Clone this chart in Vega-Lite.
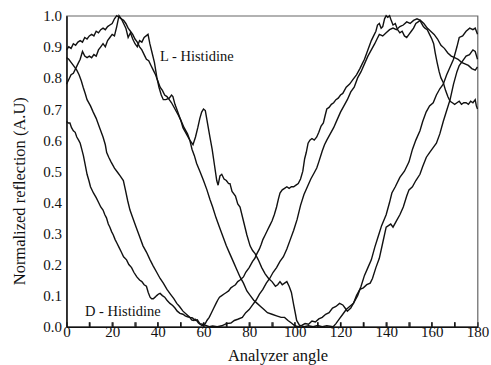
{
"$schema":"https://vega.github.io/schema/vega-lite/v6.json",
"width":411,"height":311,
"autosize":"none",
"padding":{"left":66.5,"top":15.7,"right":13.3,"bottom":38.3},
"config":{"font":"Liberation Serif","view":{"stroke":"#666","strokeWidth":1.2}},
"encoding":{
  "x":{"field":"x","type":"quantitative","scale":{"domain":[0,180],"nice":false},
   "axis":{"values":[0,10,20,30,40,50,60,70,80,90,100,110,120,130,140,150,160,170,180],
    "labelExpr":"datum.value % 20 === 0 ? datum.label : ''","labelFlush":false,"labelOverlap":false,
    "ticks":true,"tickSize":-5,"tickColor":"#111","tickWidth":1.2,"zindex":1,"domainColor":"#111","domainWidth":1.5,"grid":false,
    "labelFont":"Liberation Serif","labelFontSize":15,"labelColor":"#111","labelPadding":3,
    "title":"Analyzer angle","titleFont":"Liberation Serif","titleFontSize":16.5,"titleFontWeight":"normal","titleColor":"#111",
    "titleBaseline":"alphabetic","titleY":33.5,"titleX":211}},
  "y":{"field":"y","type":"quantitative","scale":{"domain":[0,1],"nice":false},
   "axis":{"values":[0,0.1,0.2,0.3,0.4,0.5,0.6,0.7,0.8,0.9,1.0],"format":".1f","ticks":false,"zindex":1,
    "labelFlush":false,"labelOverlap":false,"domainColor":"#111","domainWidth":1.5,"grid":false,
    "labelFont":"Liberation Serif","labelFontSize":15,"labelColor":"#111","labelPadding":5,
    "title":"Normalized reflection (A.U)","titleFont":"Liberation Serif","titleFontSize":16.5,"titleFontWeight":"normal","titleColor":"#111",
    "titleAngle":-90,"titleAlign":"center","titleBaseline":"middle","titleX":-47,"titleY":175}}
},
"layer":[
{"data":{"values":[
{"s":"L1","x":0,"y":0.89},{"s":"L1","x":1,"y":0.9},{"s":"L1","x":2,"y":0.895},{"s":"L1","x":3,"y":0.91},{"s":"L1","x":4,"y":0.905},{"s":"L1","x":5,"y":0.915},{"s":"L1","x":6,"y":0.92},{"s":"L1","x":7,"y":0.915},{"s":"L1","x":8,"y":0.93},{"s":"L1","x":9,"y":0.925},{"s":"L1","x":10,"y":0.935},{"s":"L1","x":11,"y":0.94},{"s":"L1","x":12,"y":0.935},{"s":"L1","x":13,"y":0.95},{"s":"L1","x":14,"y":0.945},{"s":"L1","x":15,"y":0.955},{"s":"L1","x":16,"y":0.96},{"s":"L1","x":17,"y":0.955},{"s":"L1","x":18,"y":0.965},{"s":"L1","x":19,"y":0.97},{"s":"L1","x":20,"y":0.975},{"s":"L1","x":21,"y":0.99},{"s":"L1","x":22,"y":1.0},{"s":"L1","x":23,"y":0.995},{"s":"L1","x":24,"y":0.99},{"s":"L1","x":25,"y":0.985},{"s":"L1","x":26,"y":0.975},{"s":"L1","x":27,"y":0.96},{"s":"L1","x":28,"y":0.95},{"s":"L1","x":29,"y":0.94},{"s":"L1","x":30,"y":0.925},{"s":"L1","x":31,"y":0.915},{"s":"L1","x":32,"y":0.9},{"s":"L1","x":33,"y":0.89},{"s":"L1","x":34,"y":0.875},{"s":"L1","x":35,"y":0.86},{"s":"L1","x":36,"y":0.855},{"s":"L1","x":37,"y":0.84},{"s":"L1","x":38,"y":0.825},{"s":"L1","x":39,"y":0.81},{"s":"L1","x":40,"y":0.79},{"s":"L1","x":41,"y":0.77},{"s":"L1","x":42,"y":0.76},{"s":"L1","x":43,"y":0.745},{"s":"L1","x":44,"y":0.74},{"s":"L1","x":45,"y":0.73},{"s":"L1","x":46,"y":0.72},{"s":"L1","x":47.5,"y":0.7},{"s":"L1","x":49,"y":0.68},{"s":"L1","x":50,"y":0.665},{"s":"L1","x":51.5,"y":0.64},{"s":"L1","x":53,"y":0.62},{"s":"L1","x":54,"y":0.6},{"s":"L1","x":55,"y":0.57},{"s":"L1","x":56,"y":0.55},{"s":"L1","x":57,"y":0.525},{"s":"L1","x":58.4,"y":0.5},{"s":"L1","x":60,"y":0.47},{"s":"L1","x":61.5,"y":0.44},{"s":"L1","x":62.8,"y":0.41},{"s":"L1","x":64,"y":0.385},{"s":"L1","x":65.5,"y":0.35},{"s":"L1","x":67,"y":0.32},{"s":"L1","x":68.5,"y":0.29},{"s":"L1","x":70,"y":0.26},{"s":"L1","x":71.5,"y":0.235},{"s":"L1","x":73,"y":0.21},{"s":"L1","x":74.5,"y":0.185},{"s":"L1","x":76,"y":0.16},{"s":"L1","x":77.5,"y":0.14},{"s":"L1","x":79,"y":0.115},{"s":"L1","x":80.5,"y":0.1},{"s":"L1","x":82,"y":0.085},{"s":"L1","x":83.5,"y":0.075},{"s":"L1","x":85,"y":0.065},{"s":"L1","x":86.5,"y":0.055},{"s":"L1","x":88,"y":0.045},{"s":"L1","x":90,"y":0.04},{"s":"L1","x":92,"y":0.035},{"s":"L1","x":94,"y":0.03},{"s":"L1","x":95.5,"y":0.03},{"s":"L1","x":97,"y":0.02},{"s":"L1","x":98.5,"y":0.012},{"s":"L1","x":100,"y":0.003},{"s":"L1","x":101.5,"y":0.0},{"s":"L1","x":103,"y":0.004},{"s":"L1","x":104.5,"y":0.01},{"s":"L1","x":106,"y":0.008},{"s":"L1","x":107.5,"y":0.018},{"s":"L1","x":109,"y":0.015},{"s":"L1","x":110.5,"y":0.025},{"s":"L1","x":112,"y":0.03},{"s":"L1","x":113.5,"y":0.04},{"s":"L1","x":115,"y":0.045},{"s":"L1","x":116.5,"y":0.06},{"s":"L1","x":118,"y":0.065},{"s":"L1","x":119.6,"y":0.075},{"s":"L1","x":121,"y":0.07},{"s":"L1","x":122,"y":0.06},{"s":"L1","x":123,"y":0.05},{"s":"L1","x":124.5,"y":0.06},{"s":"L1","x":126,"y":0.08},{"s":"L1","x":127.5,"y":0.1},{"s":"L1","x":129,"y":0.13},{"s":"L1","x":130.5,"y":0.165},{"s":"L1","x":132,"y":0.19},{"s":"L1","x":133.5,"y":0.215},{"s":"L1","x":135,"y":0.255},{"s":"L1","x":136.5,"y":0.29},{"s":"L1","x":138,"y":0.325},{"s":"L1","x":140,"y":0.36},{"s":"L1","x":141.5,"y":0.4},{"s":"L1","x":142.5,"y":0.43},{"s":"L1","x":144,"y":0.45},{"s":"L1","x":146,"y":0.48},{"s":"L1","x":148,"y":0.5},{"s":"L1","x":150,"y":0.53},{"s":"L1","x":151.5,"y":0.57},{"s":"L1","x":153,"y":0.6},{"s":"L1","x":154.8,"y":0.63},{"s":"L1","x":156,"y":0.66},{"s":"L1","x":157.5,"y":0.69},{"s":"L1","x":159,"y":0.71},{"s":"L1","x":160.6,"y":0.72},{"s":"L1","x":162,"y":0.745},{"s":"L1","x":163.5,"y":0.765},{"s":"L1","x":165,"y":0.78},{"s":"L1","x":166.5,"y":0.81},{"s":"L1","x":168,"y":0.835},{"s":"L1","x":169.5,"y":0.86},{"s":"L1","x":171,"y":0.9},{"s":"L1","x":172,"y":0.93},{"s":"L1","x":173.5,"y":0.935},{"s":"L1","x":175,"y":0.95},{"s":"L1","x":176.6,"y":0.96},{"s":"L1","x":178,"y":0.955},{"s":"L1","x":179,"y":0.96},{"s":"L1","x":180,"y":0.94},
{"s":"L2","x":0,"y":0.78},{"s":"L2","x":1,"y":0.795},{"s":"L2","x":2,"y":0.81},{"s":"L2","x":3,"y":0.815},{"s":"L2","x":4,"y":0.83},{"s":"L2","x":5,"y":0.845},{"s":"L2","x":6,"y":0.86},{"s":"L2","x":7,"y":0.885},{"s":"L2","x":8,"y":0.87},{"s":"L2","x":9,"y":0.865},{"s":"L2","x":10,"y":0.87},{"s":"L2","x":11,"y":0.865},{"s":"L2","x":12,"y":0.875},{"s":"L2","x":13,"y":0.87},{"s":"L2","x":14,"y":0.89},{"s":"L2","x":15,"y":0.9},{"s":"L2","x":16,"y":0.91},{"s":"L2","x":17,"y":0.9},{"s":"L2","x":18,"y":0.92},{"s":"L2","x":19,"y":0.93},{"s":"L2","x":20,"y":0.94},{"s":"L2","x":21,"y":0.935},{"s":"L2","x":22,"y":0.965},{"s":"L2","x":23,"y":1.0},{"s":"L2","x":24,"y":0.99},{"s":"L2","x":25,"y":0.975},{"s":"L2","x":26,"y":0.96},{"s":"L2","x":27,"y":0.93},{"s":"L2","x":28,"y":0.945},{"s":"L2","x":29,"y":0.925},{"s":"L2","x":30,"y":0.91},{"s":"L2","x":31,"y":0.9},{"s":"L2","x":32,"y":0.92},{"s":"L2","x":33,"y":0.915},{"s":"L2","x":34,"y":0.93},{"s":"L2","x":35.7,"y":0.94},{"s":"L2","x":36.5,"y":0.91},{"s":"L2","x":37.5,"y":0.88},{"s":"L2","x":38.5,"y":0.85},{"s":"L2","x":39.6,"y":0.8},{"s":"L2","x":40.5,"y":0.77},{"s":"L2","x":41.5,"y":0.745},{"s":"L2","x":42.4,"y":0.73},{"s":"L2","x":43.5,"y":0.73},{"s":"L2","x":45,"y":0.735},{"s":"L2","x":46,"y":0.745},{"s":"L2","x":46.6,"y":0.74},{"s":"L2","x":47.5,"y":0.715},{"s":"L2","x":48.5,"y":0.695},{"s":"L2","x":50,"y":0.665},{"s":"L2","x":51,"y":0.64},{"s":"L2","x":52.5,"y":0.62},{"s":"L2","x":54,"y":0.6},{"s":"L2","x":55.4,"y":0.585},{"s":"L2","x":56.5,"y":0.61},{"s":"L2","x":57.5,"y":0.64},{"s":"L2","x":58.4,"y":0.67},{"s":"L2","x":59.2,"y":0.69},{"s":"L2","x":60,"y":0.7},{"s":"L2","x":60.8,"y":0.695},{"s":"L2","x":61.5,"y":0.665},{"s":"L2","x":62.8,"y":0.61},{"s":"L2","x":63.8,"y":0.57},{"s":"L2","x":64.8,"y":0.52},{"s":"L2","x":65.8,"y":0.47},{"s":"L2","x":66.4,"y":0.455},{"s":"L2","x":67.2,"y":0.485},{"s":"L2","x":68,"y":0.49},{"s":"L2","x":69,"y":0.475},{"s":"L2","x":70,"y":0.47},{"s":"L2","x":71,"y":0.46},{"s":"L2","x":71.6,"y":0.46},{"s":"L2","x":72.5,"y":0.435},{"s":"L2","x":74,"y":0.42},{"s":"L2","x":75,"y":0.395},{"s":"L2","x":76,"y":0.385},{"s":"L2","x":77.5,"y":0.34},{"s":"L2","x":79,"y":0.295},{"s":"L2","x":80.4,"y":0.26},{"s":"L2","x":81.5,"y":0.245},{"s":"L2","x":82.6,"y":0.235},{"s":"L2","x":84,"y":0.215},{"s":"L2","x":85.5,"y":0.19},{"s":"L2","x":87,"y":0.17},{"s":"L2","x":88.5,"y":0.155},{"s":"L2","x":90,"y":0.145},{"s":"L2","x":91.5,"y":0.13},{"s":"L2","x":92.5,"y":0.135},{"s":"L2","x":93.5,"y":0.145},{"s":"L2","x":94.5,"y":0.135},{"s":"L2","x":95.5,"y":0.14},{"s":"L2","x":96.5,"y":0.145},{"s":"L2","x":97.5,"y":0.13},{"s":"L2","x":98.5,"y":0.11},{"s":"L2","x":99.5,"y":0.07},{"s":"L2","x":100.3,"y":0.04},{"s":"L2","x":100.8,"y":0.02},{"s":"L2","x":102,"y":0.005},{"s":"L2","x":104,"y":0.0},{"s":"L2","x":106,"y":0.003},{"s":"L2","x":108,"y":0.0},{"s":"L2","x":110,"y":0.004},{"s":"L2","x":112,"y":0.0},{"s":"L2","x":114,"y":0.003},{"s":"L2","x":116.8,"y":0.0},{"s":"L2","x":118,"y":0.01},{"s":"L2","x":119.5,"y":0.025},{"s":"L2","x":121,"y":0.04},{"s":"L2","x":122.5,"y":0.055},{"s":"L2","x":124,"y":0.065},{"s":"L2","x":125.7,"y":0.075},{"s":"L2","x":127,"y":0.1},{"s":"L2","x":128.5,"y":0.12},{"s":"L2","x":130,"y":0.125},{"s":"L2","x":131.5,"y":0.135},{"s":"L2","x":133,"y":0.14},{"s":"L2","x":134,"y":0.155},{"s":"L2","x":135.5,"y":0.19},{"s":"L2","x":137,"y":0.22},{"s":"L2","x":138.5,"y":0.27},{"s":"L2","x":140,"y":0.32},{"s":"L2","x":141,"y":0.325},{"s":"L2","x":142,"y":0.33},{"s":"L2","x":143,"y":0.32},{"s":"L2","x":144.5,"y":0.34},{"s":"L2","x":146,"y":0.36},{"s":"L2","x":147.5,"y":0.385},{"s":"L2","x":149,"y":0.42},{"s":"L2","x":150,"y":0.44},{"s":"L2","x":151.5,"y":0.45},{"s":"L2","x":153,"y":0.47},{"s":"L2","x":154.8,"y":0.49},{"s":"L2","x":156,"y":0.515},{"s":"L2","x":157.6,"y":0.545},{"s":"L2","x":159,"y":0.56},{"s":"L2","x":160.5,"y":0.575},{"s":"L2","x":162,"y":0.59},{"s":"L2","x":163.5,"y":0.62},{"s":"L2","x":165,"y":0.66},{"s":"L2","x":166.5,"y":0.695},{"s":"L2","x":168,"y":0.73},{"s":"L2","x":169.5,"y":0.78},{"s":"L2","x":171,"y":0.82},{"s":"L2","x":172,"y":0.84},{"s":"L2","x":173.5,"y":0.855},{"s":"L2","x":175,"y":0.87},{"s":"L2","x":176.5,"y":0.875},{"s":"L2","x":178,"y":0.89},{"s":"L2","x":179,"y":0.885},{"s":"L2","x":180,"y":0.86},
{"s":"D1","x":0,"y":0.865},{"s":"D1","x":1,"y":0.86},{"s":"D1","x":2,"y":0.85},{"s":"D1","x":3,"y":0.84},{"s":"D1","x":4.5,"y":0.825},{"s":"D1","x":5.5,"y":0.81},{"s":"D1","x":6.5,"y":0.79},{"s":"D1","x":7.3,"y":0.77},{"s":"D1","x":8.2,"y":0.75},{"s":"D1","x":9,"y":0.73},{"s":"D1","x":10.5,"y":0.71},{"s":"D1","x":11.7,"y":0.69},{"s":"D1","x":13,"y":0.67},{"s":"D1","x":14.5,"y":0.64},{"s":"D1","x":16,"y":0.61},{"s":"D1","x":17,"y":0.585},{"s":"D1","x":17.6,"y":0.56},{"s":"D1","x":18.5,"y":0.545},{"s":"D1","x":19.5,"y":0.53},{"s":"D1","x":21,"y":0.51},{"s":"D1","x":22.5,"y":0.495},{"s":"D1","x":23.5,"y":0.485},{"s":"D1","x":24.9,"y":0.47},{"s":"D1","x":25.8,"y":0.44},{"s":"D1","x":26.8,"y":0.405},{"s":"D1","x":27.8,"y":0.375},{"s":"D1","x":29,"y":0.35},{"s":"D1","x":30.5,"y":0.32},{"s":"D1","x":32,"y":0.29},{"s":"D1","x":33.5,"y":0.26},{"s":"D1","x":35,"y":0.24},{"s":"D1","x":36.6,"y":0.215},{"s":"D1","x":38,"y":0.195},{"s":"D1","x":39.5,"y":0.175},{"s":"D1","x":41,"y":0.155},{"s":"D1","x":42.4,"y":0.14},{"s":"D1","x":44,"y":0.12},{"s":"D1","x":45.5,"y":0.105},{"s":"D1","x":47,"y":0.09},{"s":"D1","x":48.3,"y":0.075},{"s":"D1","x":49.5,"y":0.065},{"s":"D1","x":51,"y":0.05},{"s":"D1","x":52.5,"y":0.04},{"s":"D1","x":54,"y":0.03},{"s":"D1","x":55.2,"y":0.028},{"s":"D1","x":56.3,"y":0.02},{"s":"D1","x":57.3,"y":0.022},{"s":"D1","x":58.4,"y":0.01},{"s":"D1","x":59.5,"y":0.008},{"s":"D1","x":61,"y":0.004},{"s":"D1","x":62.5,"y":0.0},{"s":"D1","x":64,"y":0.002},{"s":"D1","x":66,"y":0.0},{"s":"D1","x":68,"y":0.003},{"s":"D1","x":70,"y":0.01},{"s":"D1","x":72,"y":0.012},{"s":"D1","x":73.5,"y":0.02},{"s":"D1","x":75,"y":0.024},{"s":"D1","x":77,"y":0.03},{"s":"D1","x":78.5,"y":0.045},{"s":"D1","x":80,"y":0.055},{"s":"D1","x":81.5,"y":0.07},{"s":"D1","x":83,"y":0.085},{"s":"D1","x":84.5,"y":0.105},{"s":"D1","x":86,"y":0.12},{"s":"D1","x":87.5,"y":0.14},{"s":"D1","x":89,"y":0.155},{"s":"D1","x":90.5,"y":0.175},{"s":"D1","x":92,"y":0.19},{"s":"D1","x":93.5,"y":0.21},{"s":"D1","x":95,"y":0.225},{"s":"D1","x":96.5,"y":0.25},{"s":"D1","x":98,"y":0.28},{"s":"D1","x":99.5,"y":0.31},{"s":"D1","x":101,"y":0.345},{"s":"D1","x":102.5,"y":0.39},{"s":"D1","x":104,"y":0.425},{"s":"D1","x":105.5,"y":0.45},{"s":"D1","x":107,"y":0.475},{"s":"D1","x":108.5,"y":0.495},{"s":"D1","x":109.6,"y":0.51},{"s":"D1","x":110.5,"y":0.53},{"s":"D1","x":112,"y":0.565},{"s":"D1","x":113,"y":0.585},{"s":"D1","x":114,"y":0.6},{"s":"D1","x":115.5,"y":0.62},{"s":"D1","x":117,"y":0.64},{"s":"D1","x":118.5,"y":0.665},{"s":"D1","x":120,"y":0.69},{"s":"D1","x":121.5,"y":0.71},{"s":"D1","x":123,"y":0.73},{"s":"D1","x":124.5,"y":0.755},{"s":"D1","x":126,"y":0.77},{"s":"D1","x":127.5,"y":0.8},{"s":"D1","x":129,"y":0.82},{"s":"D1","x":130.5,"y":0.845},{"s":"D1","x":132,"y":0.87},{"s":"D1","x":133.5,"y":0.89},{"s":"D1","x":135,"y":0.91},{"s":"D1","x":136,"y":0.925},{"s":"D1","x":137,"y":0.94},{"s":"D1","x":138.5,"y":0.935},{"s":"D1","x":140,"y":0.945},{"s":"D1","x":141.5,"y":0.955},{"s":"D1","x":143,"y":0.96},{"s":"D1","x":144.5,"y":0.955},{"s":"D1","x":146,"y":0.965},{"s":"D1","x":147.5,"y":0.97},{"s":"D1","x":149,"y":0.98},{"s":"D1","x":150.5,"y":0.975},{"s":"D1","x":152,"y":0.985},{"s":"D1","x":153.5,"y":0.99},{"s":"D1","x":155,"y":0.985},{"s":"D1","x":156.5,"y":0.975},{"s":"D1","x":158,"y":0.96},{"s":"D1","x":159.5,"y":0.95},{"s":"D1","x":161,"y":0.94},{"s":"D1","x":162.5,"y":0.925},{"s":"D1","x":164,"y":0.905},{"s":"D1","x":165.5,"y":0.895},{"s":"D1","x":167,"y":0.88},{"s":"D1","x":168.5,"y":0.87},{"s":"D1","x":170,"y":0.865},{"s":"D1","x":171.5,"y":0.86},{"s":"D1","x":173,"y":0.85},{"s":"D1","x":174.5,"y":0.845},{"s":"D1","x":176,"y":0.84},{"s":"D1","x":177.5,"y":0.83},{"s":"D1","x":179,"y":0.825},{"s":"D1","x":180,"y":0.835},
{"s":"D2","x":0,"y":0.66},{"s":"D2","x":0.8,"y":0.655},{"s":"D2","x":1.5,"y":0.655},{"s":"D2","x":2.2,"y":0.64},{"s":"D2","x":3,"y":0.63},{"s":"D2","x":3.8,"y":0.625},{"s":"D2","x":4.5,"y":0.61},{"s":"D2","x":5.3,"y":0.6},{"s":"D2","x":6,"y":0.59},{"s":"D2","x":6.7,"y":0.57},{"s":"D2","x":7.4,"y":0.55},{"s":"D2","x":8.2,"y":0.52},{"s":"D2","x":9,"y":0.49},{"s":"D2","x":9.8,"y":0.47},{"s":"D2","x":10.5,"y":0.45},{"s":"D2","x":11.8,"y":0.43},{"s":"D2","x":13,"y":0.415},{"s":"D2","x":14,"y":0.4},{"s":"D2","x":15,"y":0.385},{"s":"D2","x":16,"y":0.375},{"s":"D2","x":16.8,"y":0.36},{"s":"D2","x":17.5,"y":0.35},{"s":"D2","x":18.3,"y":0.33},{"s":"D2","x":19,"y":0.32},{"s":"D2","x":19.8,"y":0.305},{"s":"D2","x":20.5,"y":0.295},{"s":"D2","x":21.3,"y":0.28},{"s":"D2","x":22,"y":0.27},{"s":"D2","x":23,"y":0.255},{"s":"D2","x":24,"y":0.24},{"s":"D2","x":25,"y":0.225},{"s":"D2","x":26.3,"y":0.215},{"s":"D2","x":27.3,"y":0.2},{"s":"D2","x":28.5,"y":0.19},{"s":"D2","x":29.5,"y":0.175},{"s":"D2","x":30.8,"y":0.16},{"s":"D2","x":32,"y":0.15},{"s":"D2","x":33,"y":0.145},{"s":"D2","x":34,"y":0.135},{"s":"D2","x":35,"y":0.13},{"s":"D2","x":35.8,"y":0.11},{"s":"D2","x":36.6,"y":0.095},{"s":"D2","x":37.3,"y":0.09},{"s":"D2","x":38,"y":0.09},{"s":"D2","x":38.8,"y":0.095},{"s":"D2","x":39.5,"y":0.1},{"s":"D2","x":40.3,"y":0.105},{"s":"D2","x":41,"y":0.107},{"s":"D2","x":42,"y":0.1},{"s":"D2","x":43,"y":0.095},{"s":"D2","x":44,"y":0.085},{"s":"D2","x":45.3,"y":0.075},{"s":"D2","x":46.5,"y":0.068},{"s":"D2","x":47.5,"y":0.06},{"s":"D2","x":48.5,"y":0.05},{"s":"D2","x":49.7,"y":0.043},{"s":"D2","x":51,"y":0.04},{"s":"D2","x":52,"y":0.035},{"s":"D2","x":53,"y":0.032},{"s":"D2","x":54,"y":0.03},{"s":"D2","x":54.8,"y":0.022},{"s":"D2","x":55.5,"y":0.02},{"s":"D2","x":56.3,"y":0.024},{"s":"D2","x":57,"y":0.02},{"s":"D2","x":57.8,"y":0.012},{"s":"D2","x":58.5,"y":0.008},{"s":"D2","x":59.3,"y":0.004},{"s":"D2","x":60,"y":0.005},{"s":"D2","x":60.8,"y":0.01},{"s":"D2","x":61.5,"y":0.02},{"s":"D2","x":62.5,"y":0.03},{"s":"D2","x":63.5,"y":0.045},{"s":"D2","x":64.5,"y":0.06},{"s":"D2","x":65.5,"y":0.075},{"s":"D2","x":66.2,"y":0.085},{"s":"D2","x":67,"y":0.095},{"s":"D2","x":68,"y":0.1},{"s":"D2","x":69,"y":0.105},{"s":"D2","x":70,"y":0.11},{"s":"D2","x":71,"y":0.115},{"s":"D2","x":72,"y":0.125},{"s":"D2","x":73,"y":0.13},{"s":"D2","x":74,"y":0.135},{"s":"D2","x":75,"y":0.145},{"s":"D2","x":76,"y":0.15},{"s":"D2","x":77.5,"y":0.16},{"s":"D2","x":78.5,"y":0.175},{"s":"D2","x":80,"y":0.19},{"s":"D2","x":81.5,"y":0.21},{"s":"D2","x":82.5,"y":0.22},{"s":"D2","x":83.4,"y":0.235},{"s":"D2","x":84.5,"y":0.25},{"s":"D2","x":85.3,"y":0.265},{"s":"D2","x":86,"y":0.28},{"s":"D2","x":87,"y":0.295},{"s":"D2","x":88,"y":0.31},{"s":"D2","x":89,"y":0.325},{"s":"D2","x":90,"y":0.34},{"s":"D2","x":91,"y":0.36},{"s":"D2","x":92,"y":0.385},{"s":"D2","x":92.8,"y":0.41},{"s":"D2","x":93.5,"y":0.43},{"s":"D2","x":94.5,"y":0.44},{"s":"D2","x":95.5,"y":0.445},{"s":"D2","x":96.5,"y":0.45},{"s":"D2","x":97.5,"y":0.445},{"s":"D2","x":98.5,"y":0.45},{"s":"D2","x":99.5,"y":0.45},{"s":"D2","x":100.5,"y":0.455},{"s":"D2","x":101.5,"y":0.46},{"s":"D2","x":102.5,"y":0.475},{"s":"D2","x":103.5,"y":0.5},{"s":"D2","x":104.3,"y":0.54},{"s":"D2","x":105,"y":0.56},{"s":"D2","x":105.8,"y":0.59},{"s":"D2","x":106.6,"y":0.6},{"s":"D2","x":107.5,"y":0.605},{"s":"D2","x":108.5,"y":0.6},{"s":"D2","x":109.6,"y":0.61},{"s":"D2","x":110.5,"y":0.625},{"s":"D2","x":111.5,"y":0.645},{"s":"D2","x":112.5,"y":0.655},{"s":"D2","x":113.3,"y":0.68},{"s":"D2","x":114,"y":0.7},{"s":"D2","x":115,"y":0.705},{"s":"D2","x":116,"y":0.715},{"s":"D2","x":117,"y":0.72},{"s":"D2","x":118,"y":0.73},{"s":"D2","x":119,"y":0.735},{"s":"D2","x":120,"y":0.745},{"s":"D2","x":121,"y":0.75},{"s":"D2","x":122.5,"y":0.77},{"s":"D2","x":124,"y":0.78},{"s":"D2","x":125.5,"y":0.795},{"s":"D2","x":127,"y":0.81},{"s":"D2","x":128.5,"y":0.83},{"s":"D2","x":129.5,"y":0.845},{"s":"D2","x":130.5,"y":0.86},{"s":"D2","x":131.5,"y":0.88},{"s":"D2","x":132.5,"y":0.9},{"s":"D2","x":133.5,"y":0.92},{"s":"D2","x":134.5,"y":0.935},{"s":"D2","x":135.5,"y":0.95},{"s":"D2","x":136.2,"y":0.97},{"s":"D2","x":137,"y":0.975},{"s":"D2","x":137.8,"y":0.96},{"s":"D2","x":138.5,"y":0.965},{"s":"D2","x":139.3,"y":0.99},{"s":"D2","x":140,"y":1.0},{"s":"D2","x":140.7,"y":0.995},{"s":"D2","x":141.5,"y":1.0},{"s":"D2","x":142.2,"y":0.985},{"s":"D2","x":143,"y":0.97},{"s":"D2","x":144,"y":0.975},{"s":"D2","x":145,"y":0.955},{"s":"D2","x":146,"y":0.945},{"s":"D2","x":147,"y":0.95},{"s":"D2","x":148,"y":0.935},{"s":"D2","x":149,"y":0.93},{"s":"D2","x":150,"y":0.94},{"s":"D2","x":151,"y":0.95},{"s":"D2","x":152,"y":0.96},{"s":"D2","x":153,"y":0.975},{"s":"D2","x":154,"y":0.98},{"s":"D2","x":154.8,"y":0.985},{"s":"D2","x":155.5,"y":0.975},{"s":"D2","x":156.3,"y":0.965},{"s":"D2","x":157,"y":0.96},{"s":"D2","x":158,"y":0.955},{"s":"D2","x":159,"y":0.94},{"s":"D2","x":160,"y":0.925},{"s":"D2","x":160.8,"y":0.91},{"s":"D2","x":161.5,"y":0.88},{"s":"D2","x":162.3,"y":0.85},{"s":"D2","x":163.2,"y":0.82},{"s":"D2","x":164,"y":0.8},{"s":"D2","x":165,"y":0.785},{"s":"D2","x":166,"y":0.76},{"s":"D2","x":167,"y":0.74},{"s":"D2","x":168,"y":0.725},{"s":"D2","x":169,"y":0.72},{"s":"D2","x":170,"y":0.715},{"s":"D2","x":171,"y":0.72},{"s":"D2","x":172,"y":0.725},{"s":"D2","x":173,"y":0.715},{"s":"D2","x":174,"y":0.72},{"s":"D2","x":175,"y":0.72},{"s":"D2","x":176,"y":0.715},{"s":"D2","x":177,"y":0.725},{"s":"D2","x":178,"y":0.72},{"s":"D2","x":179,"y":0.73},{"s":"D2","x":179.5,"y":0.71},{"s":"D2","x":180,"y":0.7}
]},
 "mark":{"type":"line","color":"#111","strokeWidth":1.4},
 "encoding":{"detail":{"field":"s","type":"nominal"}}},
{"data":{"values":[{"x":10,"y":0,"y2":0.014},{"x":20,"y":0,"y2":0.014},{"x":30,"y":0,"y2":0.014},{"x":40,"y":0,"y2":0.014},{"x":50,"y":0,"y2":0.014},{"x":60,"y":0,"y2":0.014},{"x":70,"y":0,"y2":0.014},{"x":80,"y":0,"y2":0.014},{"x":90,"y":0,"y2":0.014},{"x":100,"y":0,"y2":0.014},{"x":110,"y":0,"y2":0.014},{"x":120,"y":0,"y2":0.014},{"x":130,"y":0,"y2":0.014},{"x":140,"y":0,"y2":0.014},{"x":150,"y":0,"y2":0.014},{"x":160,"y":0,"y2":0.014},{"x":170,"y":0,"y2":0.014}]},
 "mark":{"type":"rule","color":"#111","strokeWidth":1.2},
 "encoding":{"y2":{"field":"y2"}}},
{"data":{"values":[{"x":41,"y":0.867,"t":"L - Histidine"},{"x":8.1,"y":0.048,"t":"D - Histidine"}]},
 "mark":{"type":"text","align":"left","baseline":"middle","fontSize":14.5,"font":"Liberation Serif","color":"#111"},
 "encoding":{"text":{"field":"t"}}}
]
}
